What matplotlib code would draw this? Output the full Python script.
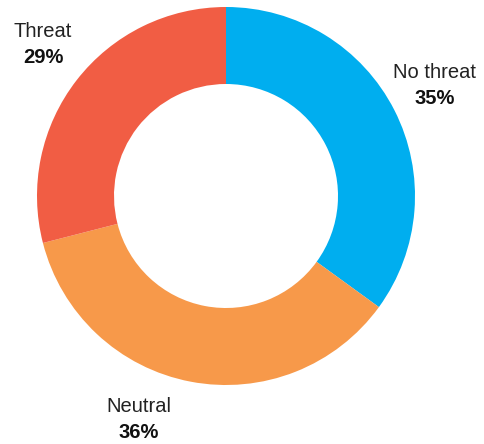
import matplotlib
matplotlib.use('Agg')
import matplotlib.pyplot as plt

# datos
categorias = ['No threat', 'Neutral', 'Threat']
porcentajes = [35, 36, 29]
colores = ['#00AEEF', '#F7994A', '#F15D44']

plt.rcParams['font.family'] = ['Liberation Sans', 'DejaVu Sans']

fig = plt.figure(figsize=(4.85, 4.44), dpi=100)
ax = fig.add_axes([0, 0, 1, 1])

# dona (coordenadas en pixeles, y hacia arriba)
ax.pie(porcentajes, colors=colores, startangle=90, counterclock=False,
       center=(226, 248), radius=189,
       wedgeprops=dict(width=77, linewidth=0), frame=True)
ax.set_xlim(0, 485)
ax.set_ylim(0, 444)
ax.set_aspect('equal')
ax.axis('off')

# etiquetas
posiciones = [(435, 372), (139, 38), (43, 413)]
for cat, val, (x, y) in zip(categorias, porcentajes, posiciones):
    ax.text(x, y, cat, ha='center', va='center', fontsize=14.5, color='#222222')
    ax.text(x, y - 26, '{}%'.format(val), ha='center', va='center',
            fontsize=14.5, fontweight='bold', color='#111111')

plt.savefig('out.png', dpi=100)
